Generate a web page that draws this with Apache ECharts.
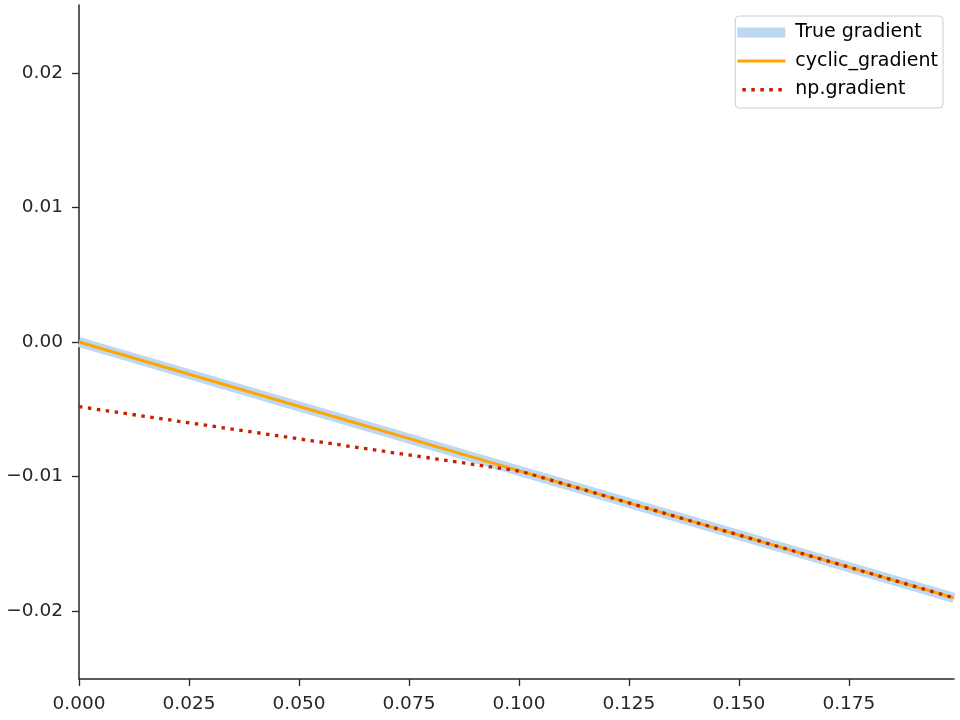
<!DOCTYPE html>
<html>
<head>
<meta charset="utf-8">
<script src="https://cdn.jsdelivr.net/npm/echarts@6/dist/echarts.min.js"></script>
<style>
html,body{margin:0;padding:0;background:#fff;}
#chart{width:960px;height:720px;}
</style>
</head>
<body>
<div id="chart"></div>
<script>
// Sample positions (x) and gradient values
var xs = [0, 0.1005, 0.1989];
var trueGradient = [0, -0.00962, -0.01903];
var cyclicGradient = [0, -0.00962, -0.01903];
var npGradient = [-0.00481, -0.00962, -0.01903];
var xTicks = [0, 0.025, 0.05, 0.075, 0.1, 0.125, 0.15, 0.175];
var yTicks = [-0.02, -0.01, 0, 0.01, 0.02];
var seriesNames = ['True gradient', 'cyclic_gradient', 'np.gradient'];

function pairs(vals){ return xs.map(function(x,i){ return [x, vals[i]]; }); }
function fmt(v, d){ var s = Math.abs(v).toFixed(d); return (v < -1e-12 ? '\u2212' : '') + s; }

var font = 'DejaVu Sans';
var axisCol = '#262626';
var blue = '#bcd8f2', orange = '#ffa500', red = '#c62000';
// legend handle shapes in a 48x18 box (corner points fix the box)
var box = 'M0,0 L0,0 Z M48,18 L48,18 Z ';
var iconBand = 'path://' + box + 'M0,4 L48,4 L48,14 L0,14 Z';
var iconLine = 'path://' + box + 'M0,7.5 L48,7.5 L48,10.5 L0,10.5 Z';
var iconDots = 'path://' + box +
  'M5,7.5 L8.5,7.5 L8.5,11 L5,11 Z M14,7.5 L17.5,7.5 L17.5,11 L14,11 Z ' +
  'M23,7.5 L26.5,7.5 L26.5,11 L23,11 Z M32,7.5 L35.5,7.5 L35.5,11 L32,11 Z ' +
  'M41,7.5 L44.5,7.5 L44.5,11 L41,11 Z';

var chart = echarts.init(document.getElementById('chart'), null, {renderer:'canvas'});
chart.setOption({
  animation:false,
  backgroundColor:'#fff',
  textStyle:{fontFamily:font},
  grid:{left:79, right:6, top:5, bottom:41, containLabel:false},
  legend:{
    right:17, top:16, orient:'vertical',
    padding:[7,5,9,2], itemGap:9.5, itemWidth:48, itemHeight:18,
    borderColor:'#cccccc', borderWidth:1, borderRadius:4, backgroundColor:'rgba(255,255,255,0.8)',
    textStyle:{fontFamily:font, fontSize:19, color:'#000', padding:[0,0,0,5]},
    data:[
      {name:seriesNames[0], icon:iconBand, itemStyle:{color:blue, borderWidth:0}},
      {name:seriesNames[1], icon:iconLine, itemStyle:{color:orange, borderWidth:0}},
      {name:seriesNames[2], icon:iconDots, itemStyle:{color:red, borderWidth:0}}
    ]
  },
  xAxis:{
    type:'value', min:0, max:0.1989,
    axisLine:{show:true, onZero:false, lineStyle:{color:axisCol, width:1.5}},
    axisTick:{show:true, length:7, customValues:xTicks, lineStyle:{color:axisCol, width:1.3}},
    axisLabel:{customValues:xTicks, color:axisCol, fontFamily:font, fontSize:18.5, margin:16,
      formatter:function(v){ return fmt(v,3); }},
    splitLine:{show:false}
  },
  yAxis:{
    type:'value', min:-0.02506, max:0.02506,
    axisLine:{show:true, onZero:false, lineStyle:{color:axisCol, width:1.5}},
    axisTick:{show:true, length:7, customValues:yTicks, lineStyle:{color:axisCol, width:1.3}},
    axisLabel:{customValues:yTicks, color:axisCol, fontFamily:font, fontSize:18.5, margin:16,
      formatter:function(v){ return fmt(v,2); }},
    splitLine:{show:false}
  },
  series:[
    {name:seriesNames[0], type:'line', data:pairs(trueGradient), symbol:'none', clip:true,
      lineStyle:{color:blue, width:10}, itemStyle:{color:blue}, z:1},
    {name:seriesNames[1], type:'line', data:pairs(cyclicGradient), symbol:'none', clip:true,
      lineStyle:{color:orange, width:3}, itemStyle:{color:orange}, z:2},
    {name:seriesNames[2], type:'line', data:pairs(npGradient), symbol:'none', clip:true,
      lineStyle:{color:red, width:3.3, type:[3.5,5.5], cap:'butt'}, itemStyle:{color:red}, z:3}
  ]
});
</script>
</body>
</html>
